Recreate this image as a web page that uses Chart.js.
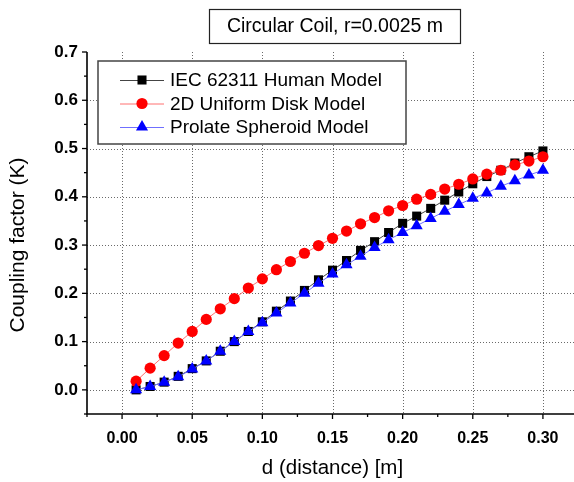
<!DOCTYPE html>
<html>
<head>
<meta charset="utf-8">
<script src="https://cdn.jsdelivr.net/npm/chart.js@4"></script>
<style>
  html, body { margin: 0; padding: 0; background: #fff; overflow: hidden; }
  #wrap { width: 586px; height: 482px; }
  canvas { display: block; width: 586px; height: 482px; }
</style>
</head>
<body>
<div id="wrap"><canvas id="kChart" width="586" height="482"></canvas></div>
<script>
// distance d [m]
const distances = [0.01, 0.02, 0.03, 0.04, 0.05, 0.06, 0.07, 0.08, 0.09, 0.10,
                   0.11, 0.12, 0.13, 0.14, 0.15, 0.16, 0.17, 0.18, 0.19, 0.20,
                   0.21, 0.22, 0.23, 0.24, 0.25, 0.26, 0.27, 0.28, 0.29, 0.30];

// coupling factor K for each model
const iecHuman = [0.000, 0.007, 0.016, 0.028, 0.044, 0.060, 0.080, 0.100, 0.121, 0.141,
                  0.163, 0.184, 0.206, 0.228, 0.248, 0.268, 0.289, 0.307, 0.326, 0.345,
                  0.360, 0.376, 0.393, 0.410, 0.427, 0.442, 0.455, 0.470, 0.483, 0.495];
const uniformDisk = [0.018, 0.045, 0.071, 0.097, 0.121, 0.146, 0.168, 0.189, 0.211, 0.230,
                     0.249, 0.266, 0.283, 0.299, 0.314, 0.329, 0.344, 0.357, 0.371, 0.382,
                     0.395, 0.405, 0.416, 0.426, 0.437, 0.447, 0.455, 0.466, 0.474, 0.483];
const prolateSpheroid = [0.000, 0.007, 0.016, 0.027, 0.043, 0.060, 0.080, 0.100, 0.121, 0.139,
                         0.159, 0.180, 0.200, 0.221, 0.240, 0.259, 0.277, 0.295, 0.311, 0.326,
                         0.340, 0.355, 0.370, 0.384, 0.397, 0.408, 0.422, 0.433, 0.445, 0.455];

const seriesNames = ['IEC 62311 Human Model', '2D Uniform Disk Model', 'Prolate Spheroid Model'];

// labelled (major) ticks
const xMajorTicks = [0.00, 0.05, 0.10, 0.15, 0.20, 0.25, 0.30];
const yMajorTicks = [0.0, 0.1, 0.2, 0.3, 0.4, 0.5, 0.6, 0.7];

const chartTitle = 'Circular Coil, r=0.0025 m';
const xTitle = 'd (distance) [m]';
const yTitle = 'Coupling factor (K)';
const FONT = 'Arial, "Liberation Sans", sans-serif';

const isMajor = (v, list) => list.some(m => Math.abs(m - v) < 1e-6);
const toPoints = ys => ys.map((y, i) => ({ x: distances[i], y }));

function drawMarker(ctx, style, x, y, r, color) {
  ctx.fillStyle = color;
  ctx.beginPath();
  if (style === 'rect') {
    const s = r * Math.SQRT1_2;
    ctx.rect(x - s, y - s, 2 * s, 2 * s);
  } else if (style === 'circle') {
    ctx.arc(x, y, r, 0, Math.PI * 2);
  } else if (style === 'triangle') {
    ctx.moveTo(x, y - r);
    ctx.lineTo(x + r * Math.cos(Math.PI / 6), y + r / 2);
    ctx.lineTo(x - r * Math.cos(Math.PI / 6), y + r / 2);
    ctx.closePath();
  }
  ctx.fill();
}

// dotted grid, axis lines and tick marks
const framePlugin = {
  id: 'frame',
  beforeDatasetsDraw(chart) {
    const { ctx, chartArea: a, scales: { x, y } } = chart;
    ctx.save();
    ctx.strokeStyle = '#6a6a6a';
    ctx.lineWidth = 1;
    ctx.setLineDash([1, 2]);
    xMajorTicks.forEach(v => {
      const px = Math.round(x.getPixelForValue(v)) + 0.5;
      ctx.beginPath(); ctx.moveTo(px, a.top); ctx.lineTo(px, a.bottom); ctx.stroke();
    });
    yMajorTicks.forEach(v => {
      if (v >= 0.7) return;
      const py = Math.round(y.getPixelForValue(v)) + 0.5;
      ctx.beginPath(); ctx.moveTo(a.left, py); ctx.lineTo(a.right, py); ctx.stroke();
    });
    ctx.restore();
  },
  afterDraw(chart) {
    const { ctx, chartArea: a, scales: { x, y } } = chart;
    ctx.save();
    ctx.strokeStyle = '#000';
    ctx.lineWidth = 1.6;
    ctx.beginPath();
    ctx.moveTo(a.left, a.top); ctx.lineTo(a.left, a.bottom); ctx.lineTo(a.right, a.bottom);
    ctx.stroke();
    ctx.lineWidth = 1.3;
    x.ticks.forEach(t => {
      const px = x.getPixelForValue(t.value);
      const len = isMajor(t.value, xMajorTicks) ? 5 : 3;
      ctx.beginPath(); ctx.moveTo(px, a.bottom); ctx.lineTo(px, a.bottom + len); ctx.stroke();
    });
    y.ticks.forEach(t => {
      const py = y.getPixelForValue(t.value);
      const len = isMajor(t.value, yMajorTicks) ? 5 : 3;
      ctx.beginPath(); ctx.moveTo(a.left, py); ctx.lineTo(a.left - len, py); ctx.stroke();
    });

    // rotated y-axis title
    ctx.save();
    ctx.translate(18, 245);
    ctx.rotate(-Math.PI / 2);
    ctx.fillStyle = '#000';
    ctx.font = '21px ' + FONT;
    ctx.textAlign = 'center';
    ctx.textBaseline = 'middle';
    ctx.fillText(yTitle, 0, 0);
    ctx.restore();
    ctx.restore();
  }
};

// boxed title and legend
const boxesPlugin = {
  id: 'boxes',
  afterDraw(chart) {
    const ctx = chart.ctx;
    ctx.save();
    ctx.fillStyle = '#fff';
    ctx.strokeStyle = '#222';
    ctx.lineWidth = 1.2;
    ctx.fillRect(209.5, 9.5, 251, 34);
    ctx.strokeRect(209.5, 9.5, 251, 34);
    ctx.fillStyle = '#000';
    ctx.font = '19.5px ' + FONT;
    ctx.textAlign = 'center';
    ctx.textBaseline = 'middle';
    ctx.fillText(chartTitle, 335, 27);

    // legend
    ctx.fillStyle = '#fff';
    ctx.strokeStyle = '#444';
    ctx.lineWidth = 1.5;
    ctx.fillRect(98, 61, 308, 83);
    ctx.strokeRect(98, 61, 308, 83);
    ctx.textAlign = 'left';
    ctx.font = '19px ' + FONT;
    chart.data.datasets.forEach((ds, i) => {
      const yy = 80 + i * 23.5;
      ctx.strokeStyle = ds.borderColor;
      ctx.lineWidth = 1;
      ctx.beginPath(); ctx.moveTo(120, yy + 0.5); ctx.lineTo(164, yy + 0.5); ctx.stroke();
      drawMarker(ctx, ds.pointStyle, 142, yy, ds.pointRadius, ds.pointBackgroundColor);
      ctx.fillStyle = '#000';
      ctx.fillText(ds.label, 170, yy + 1);
    });
    ctx.restore();
  }
};

new Chart(document.getElementById('kChart'), {
  type: 'line',
  data: {
    datasets: [
      {
        label: seriesNames[0], data: toPoints(iecHuman), order: 2,
        borderColor: '#444', borderWidth: 1,
        pointStyle: 'rect', pointRadius: 6.4,
        pointBackgroundColor: '#000', pointBorderColor: '#000', pointBorderWidth: 0
      },
      {
        label: seriesNames[1], data: toPoints(uniformDisk), order: 1,
        borderColor: '#ff7070', borderWidth: 1,
        pointStyle: 'circle', pointRadius: 5.6,
        pointBackgroundColor: '#ff0000', pointBorderColor: '#ff0000', pointBorderWidth: 0
      },
      {
        label: seriesNames[2], data: toPoints(prolateSpheroid), order: 0,
        borderColor: '#6f6fff', borderWidth: 1,
        pointStyle: 'triangle', pointRadius: 7,
        pointBackgroundColor: '#0000ff', pointBorderColor: '#0000ff', pointBorderWidth: 0
      }
    ]
  },
  options: {
    responsive: false,
    animation: false,
    layout: { padding: { top: 52, right: 8, left: 0, bottom: 0 } },
    plugins: { legend: { display: false }, tooltip: { enabled: false } },
    elements: { line: { tension: 0 } },
    scales: {
      x: {
        type: 'linear',
        min: -0.025, max: 0.325,
        afterFit: s => { s.height = 68; s.paddingLeft = 0; s.paddingRight = 0; },
        grid: { display: false, drawTicks: false },
        border: { display: false },
        ticks: {
          stepSize: 0.025,
          padding: 15,
          color: '#000',
          font: { family: FONT, size: 16, weight: 'bold' },
          maxRotation: 0,
          autoSkip: false,
          callback: v => isMajor(v, xMajorTicks) ? v.toFixed(2) : ''
        },
        title: {
          display: true, text: xTitle, color: '#000',
          font: { family: FONT, size: 20.5 },
          padding: { top: 0, bottom: 1 }
        }
      },
      y: {
        min: -0.05, max: 0.7,
        afterFit: s => { s.width = 87; s.paddingTop = 0; s.paddingBottom = 0; },
        grid: { display: false, drawTicks: false },
        border: { display: false },
        ticks: {
          stepSize: 0.05,
          padding: 9,
          color: '#000',
          font: { family: FONT, size: 17, weight: 'bold' },
          autoSkip: false,
          callback: v => isMajor(v, yMajorTicks) ? v.toFixed(1) : ''
        }
      }
    }
  },
  plugins: [framePlugin, boxesPlugin]
});
</script>
</body>
</html>
